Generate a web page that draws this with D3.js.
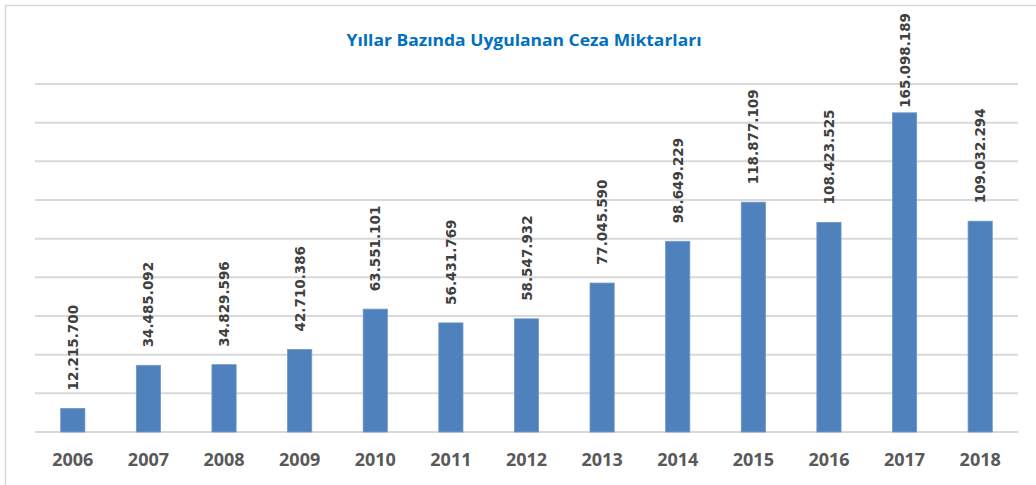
<!DOCTYPE html>
<html>
<head>
<meta charset="utf-8">
<script src="https://cdn.jsdelivr.net/npm/d3@7"></script>
<style>
  body { margin: 0; background: #fff; }
  svg { display: block; }
</style>
</head>
<body>
<svg width="1036" height="485"></svg>
<script>
const YEARS = ['2006','2007','2008','2009','2010','2011','2012','2013','2014','2015','2016','2017','2018'];
const AMOUNTS = [12215700, 34485092, 34829596, 42710386, 63551101, 56431769, 58547932, 77045590, 98649229, 118877109, 108423525, 165098189, 109032294];
const GRID_TICKS = [0, 20e6, 40e6, 60e6, 80e6, 100e6, 120e6, 140e6, 160e6, 180e6];
const TITLE = 'Yıllar Bazında Uygulanan Ceza Miktarları';

const PLOT = { left: 35, right: 1018, top: 84, bottom: 432 };
const LABEL_TOP_LIMIT = 13; // labels can't go above this, Excel pushes them down

const svg = d3.select('svg');

// outer chart border
svg.append('rect')
  .attr('x', 5.5).attr('y', 5.5)
  .attr('width', 1040).attr('height', 490)
  .attr('fill', 'none')
  .attr('stroke', '#d9d9d9')
  .attr('stroke-width', 1.5);

const x = d3.scaleBand()
  .domain(YEARS)
  .range([PLOT.left, PLOT.right])
  .paddingInner(0.68)
  .paddingOuter(0.34);

const y = d3.scaleLinear()
  .domain([0, 180e6])
  .range([PLOT.bottom, PLOT.top]);

// gridlines
svg.append('g')
  .selectAll('line')
  .data(GRID_TICKS)
  .enter()
  .append('line')
  .attr('x1', PLOT.left)
  .attr('x2', PLOT.right)
  .attr('y1', d => y(d))
  .attr('y2', d => y(d))
  .attr('stroke', '#d9d9d9')
  .attr('stroke-width', 2);

// bars
svg.append('g')
  .selectAll('rect')
  .data(AMOUNTS)
  .enter()
  .append('rect')
  .attr('x', (d, i) => x(YEARS[i]))
  .attr('y', d => y(d))
  .attr('width', x.bandwidth())
  .attr('height', d => y(0) - y(d))
  .attr('fill', '#4f81bd')
  .attr('stroke', '#6f97c9')
  .attr('stroke-width', 0.8);

// value labels (rotated)
const fmt = d3.formatLocale({ decimal: ',', thousands: '.', grouping: [3], currency: ['', ''] }).format(',d');
svg.append('g')
  .selectAll('text')
  .data(AMOUNTS)
  .enter()
  .append('text')
  .attr('font-family', 'DejaVu Sans, sans-serif')
  .attr('font-size', 13.5)
  .attr('font-weight', 'bold')
  .attr('fill', '#404040')
  .text(d => fmt(d))
  .attr('transform', function (d, i) {
    const len = this.getComputedTextLength();
    const bottom = Math.max(y(d) - 18, LABEL_TOP_LIMIT + len);
    return `translate(${x(YEARS[i]) + x.bandwidth() / 2 + 5},${bottom}) rotate(-90)`;
  });

// x axis labels
svg.append('g')
  .attr('transform', `translate(0,${PLOT.bottom})`)
  .call(d3.axisBottom(x).tickSize(0).tickPadding(21))
  .call(g => g.select('.domain').remove())
  .call(g => g.selectAll('text')
    .attr('font-family', 'Open Sans, sans-serif')
    .attr('font-size', 18)
    .attr('font-weight', 'bold')
    .attr('fill', '#595959'));

// title
svg.append('text')
  .attr('x', 524)
  .attr('y', 46)
  .attr('text-anchor', 'middle')
  .attr('font-family', 'Open Sans, sans-serif')
  .attr('font-size', 16.5)
  .attr('font-weight', 'bold')
  .attr('fill', '#0070c0')
  .attr('textLength', 355)
  .attr('lengthAdjust', 'spacingAndGlyphs')
  .text(TITLE);
</script>
</body>
</html>
